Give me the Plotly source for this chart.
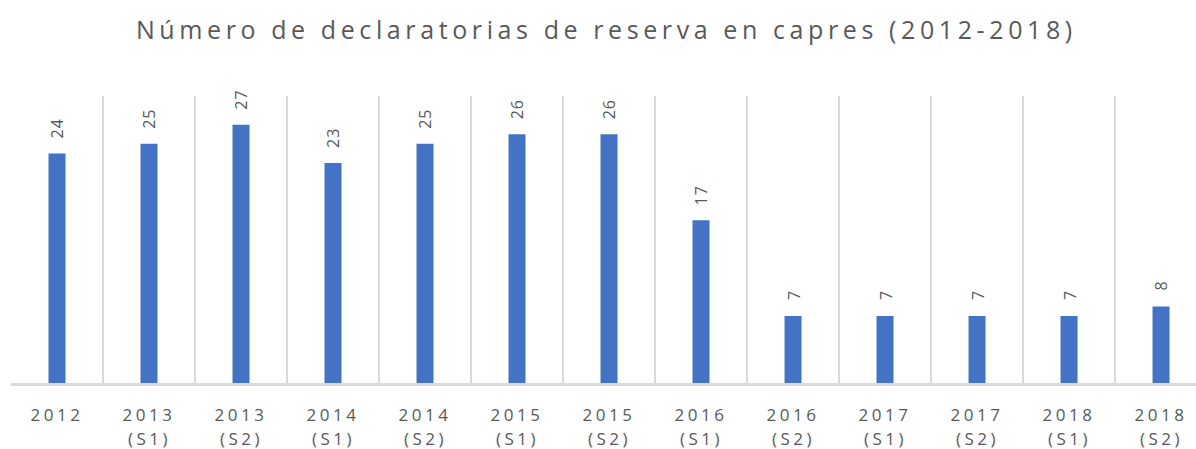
import plotly.graph_objects as go

categories = ["2012", "2013 (S1)", "2013 (S2)", "2014 (S1)", "2014 (S2)",
              "2015 (S1)", "2015 (S2)", "2016 (S1)", "2016 (S2)",
              "2017 (S1)", "2017 (S2)", "2018 (S1)", "2018 (S2)"]
years = ["2012", "2013", "2013", "2014", "2014", "2015", "2015",
         "2016", "2016", "2017", "2017", "2018", "2018"]
halves = ["", "(S1)", "(S2)", "(S1)", "(S2)", "(S1)", "(S2)",
          "(S1)", "(S2)", "(S1)", "(S2)", "(S1)", "(S2)"]
values = [24, 25, 27, 23, 25, 26, 26, 17, 7, 7, 7, 7, 8]
title_text = "Número de declaratorias de reserva en capres (2012-2018)"

TXT = "#595959"
FONT = "Open Sans"

fig = go.Figure(go.Bar(
    x=categories, y=values,
    marker=dict(color="#4472C4", line=dict(width=0)),
    width=0.185, hoverinfo="x+y",
))

for i, v in enumerate(values):
    fig.add_annotation(x=i, y=v, xref="x", yref="y", text=str(v), textangle=-90,
                       showarrow=False, yanchor="bottom", xanchor="center", yshift=14,
                       font=dict(family=FONT, size=16, color=TXT))

for i, h in enumerate(halves):
    if h:
        fig.add_annotation(x=i, y=0, xref="x", yref="paper", text=h, showarrow=False,
                           yanchor="middle", xanchor="center", yshift=-55,
                           font=dict(family=FONT, size=17, color=TXT))

fig.update_layout(
    width=1196, height=449,
    margin=dict(l=11, r=0, t=96, b=66),
    paper_bgcolor="white", plot_bgcolor="white",
    title=dict(text=title_text, x=0.507, xanchor="center", y=0.933, yanchor="middle",
               font=dict(family=FONT, size=25, color=TXT)),
    showlegend=False,
    xaxis=dict(type="category", tickson="boundaries", showgrid=True, gridcolor="#D9D9D9",
               gridwidth=2, ticks="", range=[-0.5, 12.38], automargin=False,
               categoryorder="array", categoryarray=categories,
               tickvals=categories, ticktext=years, ticklabelstandoff=15,
               showline=True, linecolor="#D9D9D9", linewidth=3,
               tickfont=dict(family=FONT, size=17, color=TXT)),
    yaxis=dict(range=[0, 30], showgrid=False, showticklabels=False, zeroline=False,
               showline=False, ticks="", automargin=False),
)

post = """
document.body.style.margin='0';
document.documentElement.style.margin='0';
var gd = document.getElementById('{plot_id}');
function sp(){
  gd.querySelectorAll('.gtitle').forEach(function(e){e.style.letterSpacing='4.6px';});
  gd.querySelectorAll('.xtick text').forEach(function(e){e.style.letterSpacing='3.5px';});
  gd.querySelectorAll('.annotation-text').forEach(function(e){
    e.style.letterSpacing = (e.textContent.charAt(0) === '(') ? '3.5px' : '1px';
  });
}
sp();
gd.on('plotly_afterplot', sp);
"""
fig.write_html("out.html", post_script=post, config={"displayModeBar": False})
